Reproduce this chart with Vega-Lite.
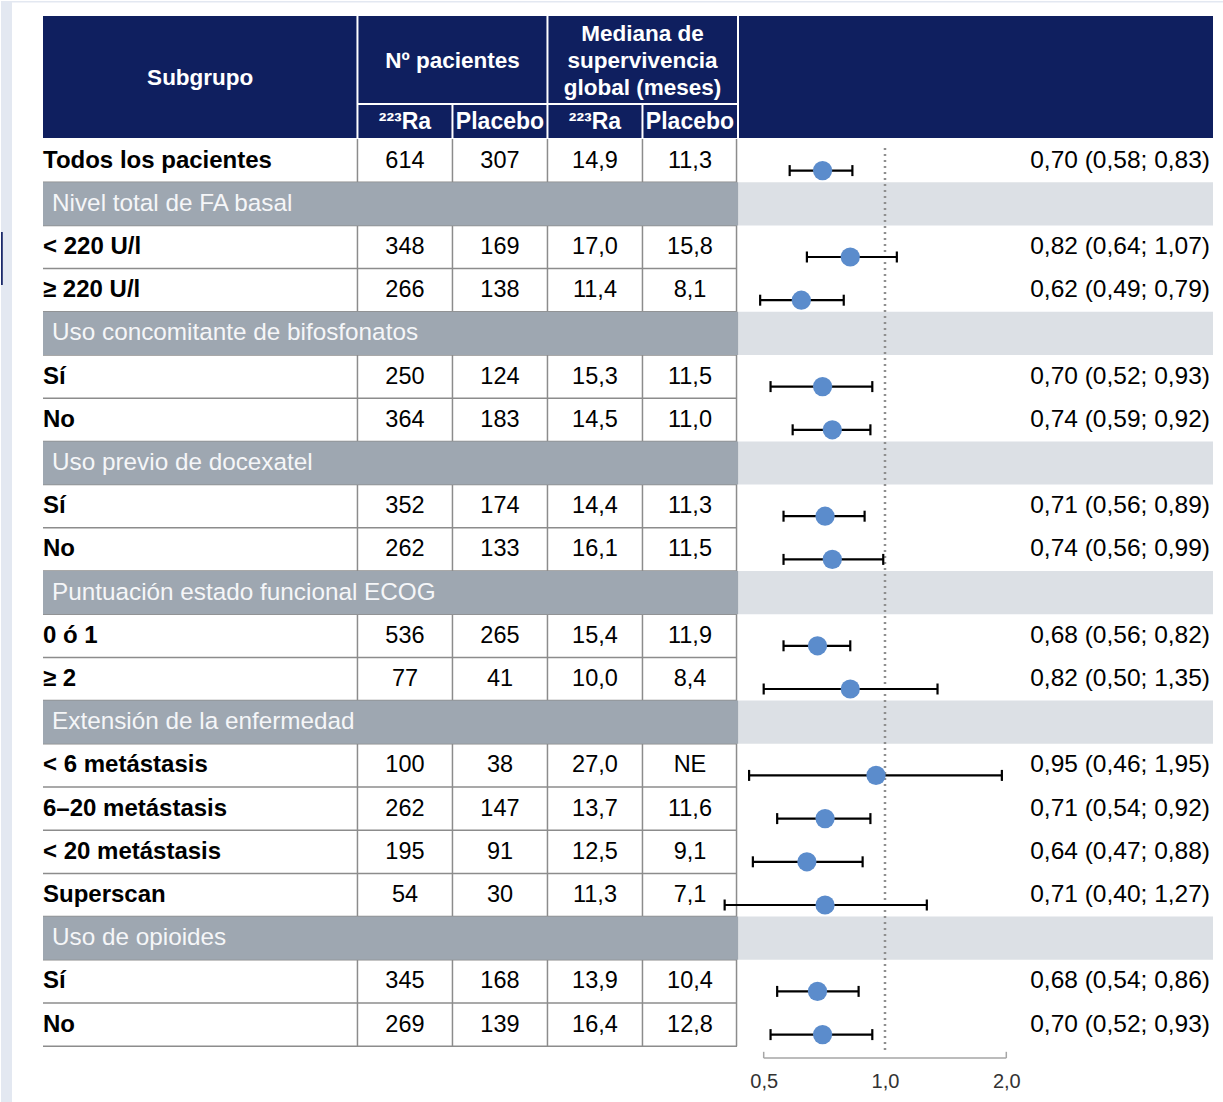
{
  "$schema": "https://vega.github.io/schema/vega-lite/v6.json",
  "background": "white",
  "padding": 0,
  "spacing": 2,
  "bounds": "flush",
  "config": {
    "font": "Liberation Sans",
    "view": {"stroke": null},
    "text": {"font": "Liberation Sans"}
  },
  "datasets": {
    "rows": [
      {"row": 0, "type": "data", "label": "Todos los pacientes", "n_ra": "614", "n_pl": "307", "med_ra": "14,9", "med_pl": "11,3", "hr": 0.70, "lo": 0.58, "hi": 0.83, "ci": "0,70 (0,58; 0,83)"},
      {"row": 1, "type": "section", "label": "Nivel total de FA basal"},
      {"row": 2, "type": "data", "label": "< 220 U/l", "n_ra": "348", "n_pl": "169", "med_ra": "17,0", "med_pl": "15,8", "hr": 0.82, "lo": 0.64, "hi": 1.07, "ci": "0,82 (0,64; 1,07)"},
      {"row": 3, "type": "data", "label": "≥ 220 U/l", "n_ra": "266", "n_pl": "138", "med_ra": "11,4", "med_pl": "8,1", "hr": 0.62, "lo": 0.49, "hi": 0.79, "ci": "0,62 (0,49; 0,79)"},
      {"row": 4, "type": "section", "label": "Uso concomitante de bifosfonatos"},
      {"row": 5, "type": "data", "label": "Sí", "n_ra": "250", "n_pl": "124", "med_ra": "15,3", "med_pl": "11,5", "hr": 0.70, "lo": 0.52, "hi": 0.93, "ci": "0,70 (0,52; 0,93)"},
      {"row": 6, "type": "data", "label": "No", "n_ra": "364", "n_pl": "183", "med_ra": "14,5", "med_pl": "11,0", "hr": 0.74, "lo": 0.59, "hi": 0.92, "ci": "0,74 (0,59; 0,92)"},
      {"row": 7, "type": "section", "label": "Uso previo de docexatel"},
      {"row": 8, "type": "data", "label": "Sí", "n_ra": "352", "n_pl": "174", "med_ra": "14,4", "med_pl": "11,3", "hr": 0.71, "lo": 0.56, "hi": 0.89, "ci": "0,71 (0,56; 0,89)"},
      {"row": 9, "type": "data", "label": "No", "n_ra": "262", "n_pl": "133", "med_ra": "16,1", "med_pl": "11,5", "hr": 0.74, "lo": 0.56, "hi": 0.99, "ci": "0,74 (0,56; 0,99)"},
      {"row": 10, "type": "section", "label": "Puntuación estado funcional ECOG"},
      {"row": 11, "type": "data", "label": "0 ó 1", "n_ra": "536", "n_pl": "265", "med_ra": "15,4", "med_pl": "11,9", "hr": 0.68, "lo": 0.56, "hi": 0.82, "ci": "0,68 (0,56; 0,82)"},
      {"row": 12, "type": "data", "label": "≥ 2", "n_ra": "77", "n_pl": "41", "med_ra": "10,0", "med_pl": "8,4", "hr": 0.82, "lo": 0.50, "hi": 1.35, "ci": "0,82 (0,50; 1,35)"},
      {"row": 13, "type": "section", "label": "Extensión de la enfermedad"},
      {"row": 14, "type": "data", "label": "< 6 metástasis", "n_ra": "100", "n_pl": "38", "med_ra": "27,0", "med_pl": "NE", "hr": 0.95, "lo": 0.46, "hi": 1.95, "ci": "0,95 (0,46; 1,95)"},
      {"row": 15, "type": "data", "label": "6–20 metástasis", "n_ra": "262", "n_pl": "147", "med_ra": "13,7", "med_pl": "11,6", "hr": 0.71, "lo": 0.54, "hi": 0.92, "ci": "0,71 (0,54; 0,92)"},
      {"row": 16, "type": "data", "label": "< 20 metástasis", "n_ra": "195", "n_pl": "91", "med_ra": "12,5", "med_pl": "9,1", "hr": 0.64, "lo": 0.47, "hi": 0.88, "ci": "0,64 (0,47; 0,88)"},
      {"row": 17, "type": "data", "label": "Superscan", "n_ra": "54", "n_pl": "30", "med_ra": "11,3", "med_pl": "7,1", "hr": 0.71, "lo": 0.40, "hi": 1.27, "ci": "0,71 (0,40; 1,27)"},
      {"row": 18, "type": "section", "label": "Uso de opioides"},
      {"row": 19, "type": "data", "label": "Sí", "n_ra": "345", "n_pl": "168", "med_ra": "13,9", "med_pl": "10,4", "hr": 0.68, "lo": 0.54, "hi": 0.86, "ci": "0,68 (0,54; 0,86)"},
      {"row": 20, "type": "data", "label": "No", "n_ra": "269", "n_pl": "139", "med_ra": "16,4", "med_pl": "12,8", "hr": 0.70, "lo": 0.52, "hi": 0.93, "ci": "0,70 (0,52; 0,93)"}
    ]
  },
  "hconcat": [
    {
      "width": 694,
      "height": 1042,
      "data": {"name": "rows"},
      "layer": [
        {
          "transform": [{"filter": "datum.row == 0"}],
          "mark": {"type": "rect", "fill": "#e3e8f1"},
          "encoding": {
            "x": {"datum": -0.4421, "type": "quantitative", "scale": {"domain": [0, 7.305], "nice": false, "zero": false}, "axis": null},
            "x2": {"datum": -0.3263},
            "y": {"datum": -3.6944, "type": "quantitative", "scale": {"domain": [-3.347, 20.773], "reverse": true, "nice": false, "zero": false}, "axis": null},
            "y2": {"datum": 21.7917}
          }
        },
        {
          "transform": [{"filter": "datum.row == 0"}],
          "mark": {"type": "rect", "fill": "#e3e8f1"},
          "encoding": {
            "x": {"datum": -0.4421, "type": "quantitative"},
            "x2": {"datum": 12.4211},
            "y": {"datum": -3.6944, "type": "quantitative"},
            "y2": {"datum": -3.6597}
          }
        },
        {
          "transform": [{"filter": "datum.row == 0"}],
          "mark": {"type": "rect", "fill": "#1b2a6b"},
          "encoding": {
            "x": {"datum": -0.4421, "type": "quantitative"},
            "x2": {"datum": -0.4232},
            "y": {"datum": 1.653, "type": "quantitative"},
            "y2": {"datum": 2.88}
          }
        },
        {
          "transform": [{"filter": "datum.row == 0"}],
          "mark": {"type": "rect", "fill": "#0f1f5f"},
          "encoding": {
            "x": {"datum": 0, "type": "quantitative"},
            "x2": {"datum": 7.305},
            "y": {"datum": -3.347, "type": "quantitative"},
            "y2": {"datum": -0.523}
          }
        },
        {
          "transform": [{"filter": "datum.row == 0"}],
          "mark": {"type": "rule", "color": "white", "strokeWidth": 2},
          "encoding": {"x": {"datum": 3.31, "type": "quantitative"}, "y": {"datum": -3.347, "type": "quantitative"}, "y2": {"datum": -0.523}}
        },
        {
          "transform": [{"filter": "datum.row == 0"}],
          "mark": {"type": "rule", "color": "white", "strokeWidth": 2},
          "encoding": {"x": {"datum": 5.31, "type": "quantitative"}, "y": {"datum": -3.347, "type": "quantitative"}, "y2": {"datum": -0.523}}
        },
        {
          "transform": [{"filter": "datum.row == 0"}],
          "mark": {"type": "rule", "color": "white", "strokeWidth": 2},
          "encoding": {"x": {"datum": 4.31, "type": "quantitative"}, "y": {"datum": -1.31, "type": "quantitative"}, "y2": {"datum": -0.523}}
        },
        {
          "transform": [{"filter": "datum.row == 0"}],
          "mark": {"type": "rule", "color": "white", "strokeWidth": 2},
          "encoding": {"x": {"datum": 6.31, "type": "quantitative"}, "y": {"datum": -1.31, "type": "quantitative"}, "y2": {"datum": -0.523}}
        },
        {
          "transform": [{"filter": "datum.row == 0"}],
          "mark": {"type": "rule", "color": "white", "strokeWidth": 2},
          "encoding": {"x": {"datum": 3.31, "type": "quantitative"}, "x2": {"datum": 7.305}, "y": {"datum": -1.31, "type": "quantitative"}}
        },
        {
          "transform": [{"filter": "datum.row == 0"}],
          "mark": {"type": "text", "text": "Subgrupo", "color": "white", "fontSize": 22.5, "fontWeight": "bold", "align": "center", "baseline": "middle"},
          "encoding": {"x": {"datum": 1.655, "type": "quantitative"}, "y": {"datum": -1.912, "type": "quantitative"}}
        },
        {
          "transform": [{"filter": "datum.row == 0"}],
          "mark": {"type": "text", "text": "Nº pacientes", "color": "white", "fontSize": 22.5, "fontWeight": "bold", "align": "center", "baseline": "middle"},
          "encoding": {"x": {"datum": 4.31, "type": "quantitative"}, "y": {"datum": -2.306, "type": "quantitative"}}
        },
        {
          "transform": [{"filter": "datum.row == 0"}],
          "mark": {"type": "text", "text": ["Mediana de", "supervivencia", "global (meses)"], "lineHeight": 27, "color": "white", "fontSize": 22.5, "fontWeight": "bold", "align": "center", "baseline": "middle"},
          "encoding": {"x": {"datum": 6.31, "type": "quantitative"}, "y": {"datum": -2.931, "type": "quantitative"}}
        },
        {
          "transform": [{"filter": "datum.row == 0"}],
          "mark": {"type": "text", "text": "²²³Ra", "color": "white", "fontSize": 23, "fontWeight": "bold", "align": "center", "baseline": "middle"},
          "encoding": {"x": {"datum": 3.81, "type": "quantitative"}, "y": {"datum": -0.894, "type": "quantitative"}}
        },
        {
          "transform": [{"filter": "datum.row == 0"}],
          "mark": {"type": "text", "text": "Placebo", "color": "white", "fontSize": 23, "fontWeight": "bold", "align": "center", "baseline": "middle"},
          "encoding": {"x": {"datum": 4.81, "type": "quantitative"}, "y": {"datum": -0.894, "type": "quantitative"}}
        },
        {
          "transform": [{"filter": "datum.row == 0"}],
          "mark": {"type": "text", "text": "²²³Ra", "color": "white", "fontSize": 23, "fontWeight": "bold", "align": "center", "baseline": "middle"},
          "encoding": {"x": {"datum": 5.81, "type": "quantitative"}, "y": {"datum": -0.894, "type": "quantitative"}}
        },
        {
          "transform": [{"filter": "datum.row == 0"}],
          "mark": {"type": "text", "text": "Placebo", "color": "white", "fontSize": 23, "fontWeight": "bold", "align": "center", "baseline": "middle"},
          "encoding": {"x": {"datum": 6.81, "type": "quantitative"}, "y": {"datum": -0.894, "type": "quantitative"}}
        },
        {
          "transform": [{"filter": "datum.row == 0"}],
          "mark": {"type": "rule", "color": "#8c8c8c", "strokeWidth": 1.5},
          "encoding": {"x": {"datum": 3.31, "type": "quantitative"}, "y": {"datum": -0.5, "type": "quantitative"}, "y2": {"datum": 20.5}}
        },
        {
          "transform": [{"filter": "datum.row == 0"}],
          "mark": {"type": "rule", "color": "#8c8c8c", "strokeWidth": 1.5},
          "encoding": {"x": {"datum": 4.31, "type": "quantitative"}, "y": {"datum": -0.5, "type": "quantitative"}, "y2": {"datum": 20.5}}
        },
        {
          "transform": [{"filter": "datum.row == 0"}],
          "mark": {"type": "rule", "color": "#8c8c8c", "strokeWidth": 1.5},
          "encoding": {"x": {"datum": 5.31, "type": "quantitative"}, "y": {"datum": -0.5, "type": "quantitative"}, "y2": {"datum": 20.5}}
        },
        {
          "transform": [{"filter": "datum.row == 0"}],
          "mark": {"type": "rule", "color": "#8c8c8c", "strokeWidth": 1.5},
          "encoding": {"x": {"datum": 6.31, "type": "quantitative"}, "y": {"datum": -0.5, "type": "quantitative"}, "y2": {"datum": 20.5}}
        },
        {
          "transform": [{"filter": "datum.row == 0"}],
          "mark": {"type": "rule", "color": "#8c8c8c", "strokeWidth": 1.5},
          "encoding": {"x": {"datum": 7.3, "type": "quantitative"}, "y": {"datum": -0.5, "type": "quantitative"}, "y2": {"datum": 20.5}}
        },
        {
          "mark": {"type": "rule", "color": "#8c8c8c", "strokeWidth": 1.5, "yOffset": 21.6},
          "encoding": {"x": {"datum": 0, "type": "quantitative"}, "x2": {"datum": 7.305}, "y": {"field": "row", "type": "quantitative"}}
        },
        {
          "transform": [{"filter": "datum.type == 'section'"}],
          "mark": {"type": "rule", "color": "#9ea7b1", "strokeWidth": 43.2},
          "encoding": {"x": {"datum": 0, "type": "quantitative"}, "x2": {"datum": 7.32}, "y": {"field": "row", "type": "quantitative"}}
        },
        {
          "transform": [{"filter": "datum.type == 'section'"}],
          "mark": {"type": "text", "color": "#f5f6f8", "fontSize": 24.3, "align": "left", "baseline": "middle"},
          "encoding": {"x": {"datum": 0.095, "type": "quantitative"}, "y": {"field": "row", "type": "quantitative"}, "text": {"field": "label"}}
        },
        {
          "transform": [{"filter": "datum.type == 'data'"}],
          "mark": {"type": "text", "color": "black", "fontSize": 24, "fontWeight": "bold", "align": "left", "baseline": "middle"},
          "encoding": {"x": {"datum": 0, "type": "quantitative"}, "y": {"field": "row", "type": "quantitative"}, "text": {"field": "label"}}
        },
        {
          "transform": [{"filter": "datum.type == 'data'"}],
          "mark": {"type": "text", "color": "black", "fontSize": 23.5, "align": "center", "baseline": "middle"},
          "encoding": {"x": {"datum": 3.81, "type": "quantitative"}, "y": {"field": "row", "type": "quantitative"}, "text": {"field": "n_ra"}}
        },
        {
          "transform": [{"filter": "datum.type == 'data'"}],
          "mark": {"type": "text", "color": "black", "fontSize": 23.5, "align": "center", "baseline": "middle"},
          "encoding": {"x": {"datum": 4.81, "type": "quantitative"}, "y": {"field": "row", "type": "quantitative"}, "text": {"field": "n_pl"}}
        },
        {
          "transform": [{"filter": "datum.type == 'data'"}],
          "mark": {"type": "text", "color": "black", "fontSize": 23.5, "align": "center", "baseline": "middle"},
          "encoding": {"x": {"datum": 5.81, "type": "quantitative"}, "y": {"field": "row", "type": "quantitative"}, "text": {"field": "med_ra"}}
        },
        {
          "transform": [{"filter": "datum.type == 'data'"}],
          "mark": {"type": "text", "color": "black", "fontSize": 23.5, "align": "center", "baseline": "middle"},
          "encoding": {"x": {"datum": 6.81, "type": "quantitative"}, "y": {"field": "row", "type": "quantitative"}, "text": {"field": "med_pl"}}
        }
      ]
    },
    {
      "width": 474,
      "height": 1042,
      "data": {"name": "rows"},
      "layer": [
        {
          "transform": [{"filter": "datum.row == 0"}],
          "mark": {"type": "rect", "fill": "#0f1f5f"},
          "encoding": {
            "x": {"value": 0},
            "x2": {"value": "width"},
            "y": {"datum": -3.347, "type": "quantitative", "scale": {"domain": [-3.347, 20.773], "reverse": true, "nice": false, "zero": false}, "axis": null},
            "y2": {"datum": -0.523}
          }
        },
        {
          "transform": [{"filter": "datum.type == 'section'"}],
          "mark": {"type": "rule", "color": "#dce0e5", "strokeWidth": 43.2},
          "encoding": {"x": {"value": 0}, "x2": {"value": "width"}, "y": {"field": "row", "type": "quantitative"}}
        },
        {
          "transform": [{"filter": "datum.row == 0"}],
          "mark": {"type": "rule", "color": "#8f8f8f", "strokeWidth": 2.5, "strokeDash": [2, 4]},
          "encoding": {
            "x": {"datum": 1, "type": "quantitative", "scale": {"type": "log", "domain": [0.4342, 6.516], "nice": false}, "axis": {"values": [0.5, 1, 2], "title": null, "domain": false, "ticks": false, "grid": false, "labelFontSize": 20, "labelColor": "#333333", "labelPadding": 13, "labelExpr": "replace(format(datum.value, '.1f'), '.', ',')"}},
            "y": {"datum": -0.29, "type": "quantitative"},
            "y2": {"datum": 20.63}
          }
        },
        {
          "transform": [{"filter": "datum.type == 'data'"}],
          "mark": {"type": "rule", "color": "black", "strokeWidth": 2.2, "yOffset": 10},
          "encoding": {
            "x": {"field": "lo", "type": "quantitative"},
            "x2": {"field": "hi"},
            "y": {"field": "row", "type": "quantitative"}
          }
        },
        {
          "transform": [{"filter": "datum.type == 'data'"}],
          "mark": {"type": "point", "shape": "M0,-1L0,1", "size": 121, "filled": false, "stroke": "black", "strokeWidth": 2.2, "opacity": 1, "yOffset": 10},
          "encoding": {"x": {"field": "lo", "type": "quantitative"}, "y": {"field": "row", "type": "quantitative"}}
        },
        {
          "transform": [{"filter": "datum.type == 'data'"}],
          "mark": {"type": "point", "shape": "M0,-1L0,1", "size": 121, "filled": false, "stroke": "black", "strokeWidth": 2.2, "opacity": 1, "yOffset": 10},
          "encoding": {"x": {"field": "hi", "type": "quantitative"}, "y": {"field": "row", "type": "quantitative"}}
        },
        {
          "transform": [{"filter": "datum.type == 'data'"}],
          "mark": {"type": "point", "shape": "circle", "size": 370, "filled": true, "color": "#5b8ccc", "opacity": 1, "yOffset": 10},
          "encoding": {"x": {"field": "hr", "type": "quantitative"}, "y": {"field": "row", "type": "quantitative"}}
        },
        {
          "transform": [{"filter": "datum.type == 'data'"}],
          "mark": {"type": "text", "color": "black", "fontSize": 24.5, "align": "right", "baseline": "middle", "dx": -3},
          "encoding": {"x": {"value": "width"}, "y": {"field": "row", "type": "quantitative"}, "text": {"field": "ci"}}
        },
        {
          "transform": [{"filter": "datum.row == 0"}],
          "mark": {"type": "rule", "color": "#a6a6a6", "strokeWidth": 1.5},
          "encoding": {
            "x": {"datum": 0.5, "type": "quantitative"},
            "x2": {"datum": 2},
            "y": {"datum": 20.773, "type": "quantitative"}
          }
        },
        {
          "transform": [{"filter": "datum.row == 0"}],
          "mark": {"type": "rule", "color": "#a6a6a6", "strokeWidth": 1.5},
          "encoding": {
            "x": {"datum": 0.5, "type": "quantitative"},
            "y": {"datum": 20.773, "type": "quantitative"},
            "y2": {"datum": 20.63}
          }
        },
        {
          "transform": [{"filter": "datum.row == 0"}],
          "mark": {"type": "rule", "color": "#a6a6a6", "strokeWidth": 1.5},
          "encoding": {
            "x": {"datum": 2, "type": "quantitative"},
            "y": {"datum": 20.773, "type": "quantitative"},
            "y2": {"datum": 20.63}
          }
        }
      ]
    }
  ]
}
